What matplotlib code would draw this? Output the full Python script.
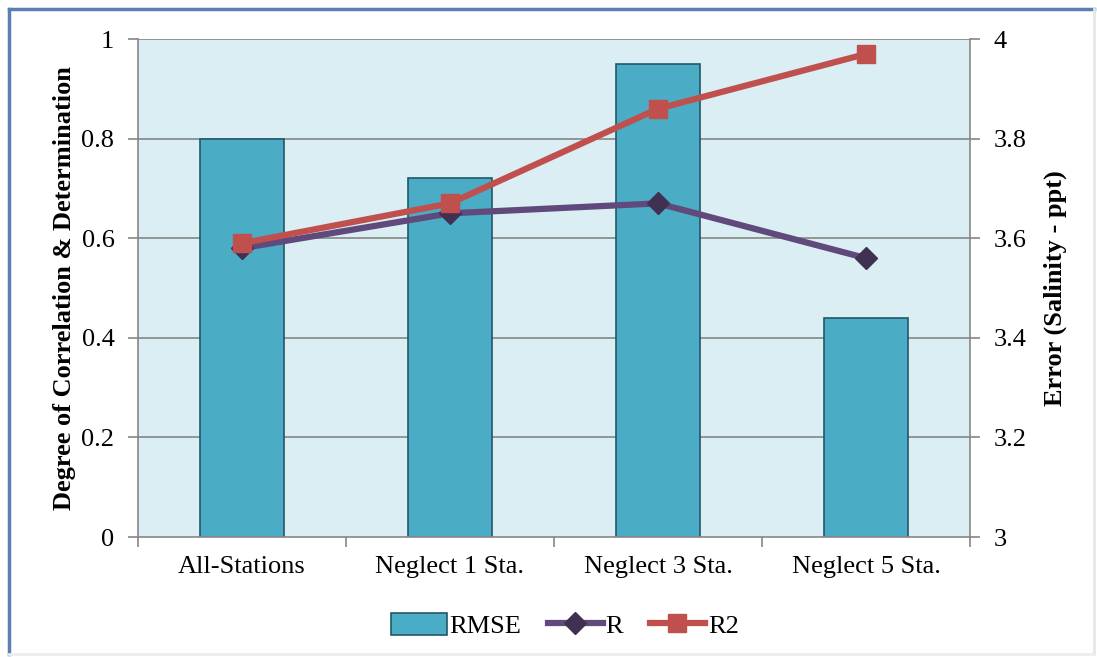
import matplotlib.pyplot as plt
from matplotlib.patches import Rectangle
from matplotlib.lines import Line2D

plt.rcParams['font.family'] = ['Liberation Serif', 'DejaVu Serif']

estaciones = ['All-Stations', 'Neglect 1 Sta.', 'Neglect 3 Sta.', 'Neglect 5 Sta.']
rmse = [3.80, 3.72, 3.95, 3.44]
r = [0.58, 0.65, 0.67, 0.56]
r2 = [0.59, 0.67, 0.86, 0.97]

fig = plt.figure(figsize=(10.97, 6.57), dpi=100)
ax = fig.add_axes([0.1258, 0.1826, 0.7584, 0.758])
ax2 = ax.twinx()

# barras de error en el eje derecho, lineas en el izquierdo
ax.set_zorder(ax2.get_zorder() + 1)
ax.patch.set_visible(False)
ax2.patch.set_visible(True)
ax2.patch.set_facecolor('#DBEEF4')

x = list(range(len(estaciones)))
ax2.bar(x, rmse, width=0.4, color='#4BACC6', edgecolor='#215968', linewidth=1.2)
ax2.set_ylim(3, 4)
ax2.set_yticks([3, 3.2, 3.4, 3.6, 3.8, 4])
ax2.set_yticklabels(['3', '3.2', '3.4', '3.6', '3.8', '4'])

ax.plot(x, r, color='#604A7B', lw=4.5, marker='D', ms=11, mfc='#403152', mec='#403152',
        solid_capstyle='round')
ax.plot(x, r2, color='#C0504D', lw=4.5, marker='s', ms=13, mfc='#C0504D', mec='#C0504D',
        solid_capstyle='round')
ax.set_ylim(0, 1)
ax.set_xlim(-0.5, 3.5)
ax.set_yticks([0, 0.2, 0.4, 0.6, 0.8, 1])
ax.set_yticklabels(['0', '0.2', '0.4', '0.6', '0.8', '1'])
ax.set_xticks(x)
ax.set_xticklabels(estaciones)
ax.set_xticks([-0.5, 0.5, 1.5, 2.5, 3.5], minor=True)
ax.tick_params(axis='x', which='major', length=0, pad=14, labelsize=19)
ax.tick_params(axis='x', which='minor', length=7, color='#868686', width=1.2)
ax.tick_params(axis='y', length=7, color='#868686', width=1.2, labelsize=19, pad=10)
ax2.tick_params(axis='y', length=7, color='#868686', width=1.2, labelsize=19, pad=10)

for y in [0.2, 0.4, 0.6, 0.8, 1.0]:
    ax2.axhline(3 + y, color='#868686', lw=1.2, zorder=0.5)

for a in (ax, ax2):
    for lado in a.spines.values():
        lado.set_color('#868686')
        lado.set_linewidth(1.2)
    a.spines['top'].set_visible(False)
ax.spines['right'].set_visible(False)
ax2.spines['left'].set_visible(False)
ax2.spines['bottom'].set_visible(False)

ax.set_ylabel('Degree of Correlation & Determination', fontsize=19, fontweight='bold', labelpad=4)
ax2.set_ylabel('Error (Salinity - ppt)', fontsize=19, fontweight='bold', labelpad=12)

handles = [
    Rectangle((0, 0), 1, 1, facecolor='#4BACC6', edgecolor='#215968', linewidth=1.2),
    Line2D([], [], color='#604A7B', lw=4.5, marker='D', ms=11, mfc='#403152', mec='#403152'),
    Line2D([], [], color='#C0504D', lw=4.5, marker='s', ms=13, mfc='#C0504D', mec='#C0504D'),
]
fig.legend(handles, ['RMSE', 'R', 'R2'], loc='center', bbox_to_anchor=(0.515, 0.048),
           ncol=3, frameon=False, fontsize=19, handlelength=2.1, handletextpad=0.1,
           columnspacing=1.0, handleheight=0.9)

# marco exterior del grafico
fig.add_artist(Line2D([0.0085, 0.0085], [0.005, 0.986], color='#5B7FB5', lw=2.5,
                      transform=fig.transFigure))
fig.add_artist(Line2D([0.0085, 0.997], [0.986, 0.986], color='#5B7FB5', lw=2.5,
                      transform=fig.transFigure))
fig.add_artist(Line2D([0.997, 0.997], [0.005, 0.986], color='#E6E6E6', lw=2,
                      transform=fig.transFigure))
fig.add_artist(Line2D([0.0085, 0.997], [0.005, 0.005], color='#EDEDED', lw=2,
                      transform=fig.transFigure))

fig.savefig('out.png', dpi=100)
